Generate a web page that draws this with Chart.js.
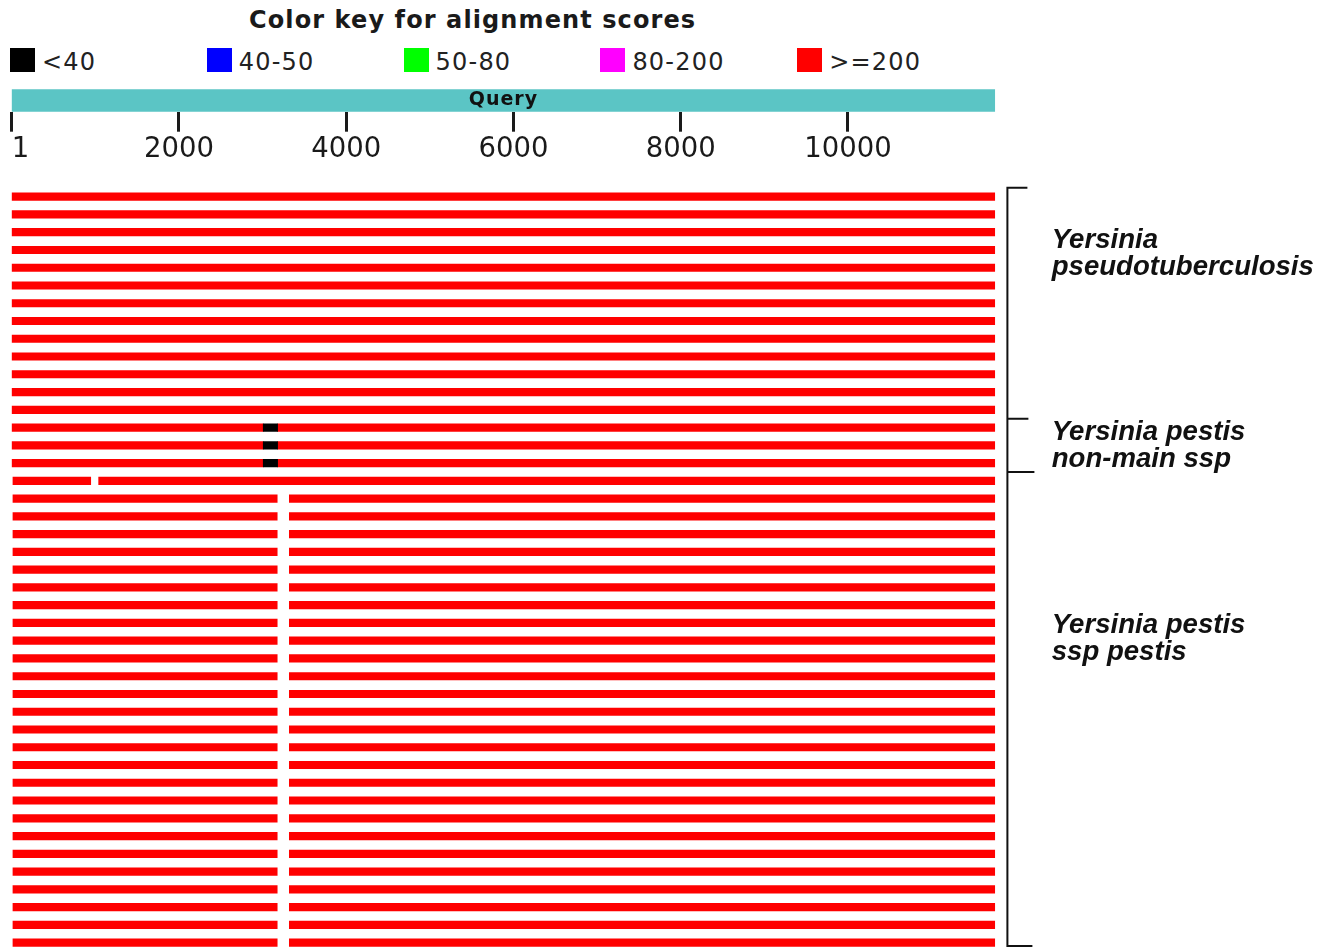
<!DOCTYPE html>
<html>
<head>
<meta charset="utf-8">
<title>Color key for alignment scores</title>
<script src="https://cdn.jsdelivr.net/npm/chart.js@4.4.1/dist/chart.umd.min.js"></script>
<style>
  html, body { margin: 0; padding: 0; background: #fff; width: 1323px; height: 947px; overflow: hidden; }
  #keyTitle { position: absolute; left: 249px; top: 8px; font: bold 24px "DejaVu Sans"; line-height: 24px;
              letter-spacing: 1.1px; color: #1a1a1a; white-space: nowrap; }
  .keyItem { position: absolute; top: 48px; height: 24px; display: flex; align-items: center;
             font: 24px "DejaVu Sans"; line-height: 24px; letter-spacing: 1.2px; color: #222; white-space: nowrap; }
  .keyItem i { display: inline-block; width: 25px; height: 24px; margin-right: 7px; }
  .keyItem span { position: relative; top: 1.5px; }
  #queryBox { position: absolute; left: -40px; top: 60px; width: 1100px; height: 112px; }
  #hitBox { position: absolute; left: 0; top: 176px; width: 1323px; height: 790px; }
</style>
</head>
<body>
<div id="keyTitle">Color key for alignment scores</div>
<div id="keyRow"></div>
<div id="queryBox"><canvas id="queryChart"></canvas></div>
<div id="hitBox"><canvas id="hitChart"></canvas></div>

<script>
// Query length and ruler ticks
const queryLength = 11760;
const axisTicks = [1, 2000, 4000, 6000, 8000, 10000];

// Score bins of the colour key
const scoreBins = ['<40', '40-50', '50-80', '80-200', '>=200'];
const binColors = ['#000000', '#0000ff', '#00ff00', '#ff00ff', '#ff0000'];

// Alignment segments on the query: [start, end, score bin index]
const fullHit = [[0, 11760, 4]];
const lowScoreGapHit = [[0, 3008, 4], [3008, 3180, 0], [3180, 11760, 4]];
const earlySplitHit = [[15, 945, 4], [1040, 11760, 4]];
const deletionHit = [[15, 3175, 4], [3320, 11760, 4]];

// One entry per subject sequence, top to bottom
const subjectHits = [
  fullHit, fullHit, fullHit, fullHit, fullHit, fullHit, fullHit,
  fullHit, fullHit, fullHit, fullHit, fullHit, fullHit,
  lowScoreGapHit, lowScoreGapHit, lowScoreGapHit,
  earlySplitHit,
  deletionHit, deletionHit, deletionHit, deletionHit, deletionHit, deletionHit, deletionHit,
  deletionHit, deletionHit, deletionHit, deletionHit, deletionHit, deletionHit, deletionHit,
  deletionHit, deletionHit, deletionHit, deletionHit, deletionHit, deletionHit, deletionHit,
  deletionHit, deletionHit, deletionHit, deletionHit, deletionHit
];

// Taxonomic groups of the subject rows
const groupLabels = [
  ['Yersinia', 'pseudotuberculosis'],
  ['Yersinia pestis', 'non-main ssp'],
  ['Yersinia pestis', 'ssp pestis']
];
const groupFirstRow = [0, 13, 16];
const groupLastRow = [12, 15, 42];

// ---- colour key ----
const keyRow = document.getElementById('keyRow');
scoreBins.forEach((bin, i) => {
  const item = document.createElement('div');
  item.className = 'keyItem';
  item.style.left = (10 + i * 196.8) + 'px';
  const sw = document.createElement('i');
  sw.style.background = binColors[i];
  const txt = document.createElement('span');
  txt.textContent = bin;
  item.appendChild(sw);
  item.appendChild(txt);
  keyRow.appendChild(item);
});

// ---- plugins ----
const barCaption = {
  id: 'barCaption',
  afterDatasetsDraw(chart, args, opts) {
    const bar = chart.getDatasetMeta(0).data[0];
    if (!bar) return;
    const { x, base, y } = bar.getProps(['x', 'base', 'y'], true);
    const ctx = chart.ctx;
    ctx.save();
    ctx.font = opts.font;
    ctx.letterSpacing = opts.letterSpacing;
    ctx.fillStyle = opts.color;
    ctx.textAlign = 'center';
    ctx.textBaseline = 'middle';
    ctx.fillText(chart.data.datasets[0].label, (x + base) / 2, y);
    ctx.restore();
  }
};

const groupBrackets = {
  id: 'groupBrackets',
  afterDraw(chart, args, opts) {
    const { ctx, chartArea, scales } = chart;
    const y = scales.y;
    const step = y.getPixelForValue(1) - y.getPixelForValue(0);
    const xLine = chartArea.right + opts.gap;
    const visibleBottom = window.innerHeight - chart.canvas.getBoundingClientRect().top - 1;
    const edges = [];
    groupFirstRow.forEach((first, g) => {
      edges.push(y.getPixelForValue(first) - step / 2);
      if (g === groupFirstRow.length - 1) {
        edges.push(Math.min(y.getPixelForValue(groupLastRow[g]) + step / 2, visibleBottom));
      }
    });
    ctx.save();
    ctx.strokeStyle = opts.color;
    ctx.lineWidth = 2;
    ctx.beginPath();
    ctx.moveTo(xLine, edges[0]);
    ctx.lineTo(xLine, edges[edges.length - 1]);
    edges.forEach((e, i) => {
      ctx.moveTo(xLine - 1, e);
      ctx.lineTo(xLine + opts.arms[i], e);
    });
    ctx.stroke();

    ctx.fillStyle = opts.color;
    ctx.font = opts.font;
    ctx.textAlign = 'left';
    ctx.textBaseline = 'alphabetic';
    groupLabels.forEach((lines, g) => {
      const anchor = y.getPixelForValue(opts.anchors[g]);
      lines.forEach((line, k) => {
        ctx.fillText(line, chartArea.right + opts.textGap, anchor - 2 + k * opts.lineHeight);
      });
    });
    ctx.restore();
  }
};

// ---- query bar with ruler ----
new Chart(document.getElementById('queryChart'), {
  type: 'bar',
  data: {
    labels: ['Query'],
    datasets: [{
      label: 'Query',
      data: [[0, queryLength]],
      backgroundColor: '#5bc5c5',
      borderWidth: 0,
      barPercentage: 1,
      categoryPercentage: 1
    }]
  },
  options: {
    indexAxis: 'y',
    responsive: true,
    maintainAspectRatio: false,
    animation: false,
    events: [],
    layout: { padding: { left: 51.7, right: 64.9, top: 29.3, bottom: 0.3 } },
    scales: {
      x: {
        type: 'linear',
        position: 'bottom',
        min: 0,
        max: queryLength,
        afterBuildTicks: (s) => { s.ticks = axisTicks.map(v => ({ value: v })); },
        afterFit: (s) => { s.height = 60; },
        border: { display: false },
        grid: { drawOnChartArea: false, drawTicks: true, tickLength: 20, tickWidth: 3, tickColor: '#1a1a1a' },
        ticks: {
          padding: 1.5,
          color: '#1a1a1a',
          font: { family: 'DejaVu Sans', size: 27.5 },
          maxRotation: 0,
          autoSkip: false,
          callback: (v) => (v === 1 ? '  1' : String(v))
        }
      },
      y: { type: 'category', display: false }
    },
    plugins: {
      legend: { display: false },
      tooltip: { enabled: false },
      barCaption: { font: 'bold 19px "DejaVu Sans"', letterSpacing: '1px', color: '#111' }
    }
  },
  plugins: [barCaption]
});

// ---- subject hits ----
const rowLabels = subjectHits.map((_, i) => 'subject ' + (i + 1));
const binData = scoreBins.map(() => []);
subjectHits.forEach((segments, r) => {
  segments.forEach(([start, end, bin]) => {
    binData[bin].push({ y: rowLabels[r], x: [start, end] });
  });
});

new Chart(document.getElementById('hitChart'), {
  type: 'bar',
  data: {
    labels: rowLabels,
    datasets: scoreBins.map((bin, i) => ({
      label: bin,
      data: binData[i],
      backgroundColor: binColors[i],
      borderWidth: 0,
      barThickness: 7.5,
      grouped: false
    }))
  },
  options: {
    indexAxis: 'y',
    responsive: true,
    maintainAspectRatio: false,
    animation: false,
    events: [],
    layout: { padding: { left: 11.7, right: 327.9, top: 11.8, bottom: 14.5 } },
    scales: {
      x: { type: 'linear', min: 0, max: queryLength, display: false },
      y: { type: 'category', labels: rowLabels, offset: true, display: false }
    },
    plugins: {
      legend: { display: false },
      tooltip: { enabled: false },
      groupBrackets: {
        gap: 12.3,
        arms: [20, 21, 27, 25],
        textGap: 56.6,
        lineHeight: 27,
        anchors: [3, 13.8, 24.7],
        font: 'italic bold 27.6px "Liberation Sans"',
        color: '#111'
      }
    }
  },
  plugins: [groupBrackets]
});
</script>
</body>
</html>
